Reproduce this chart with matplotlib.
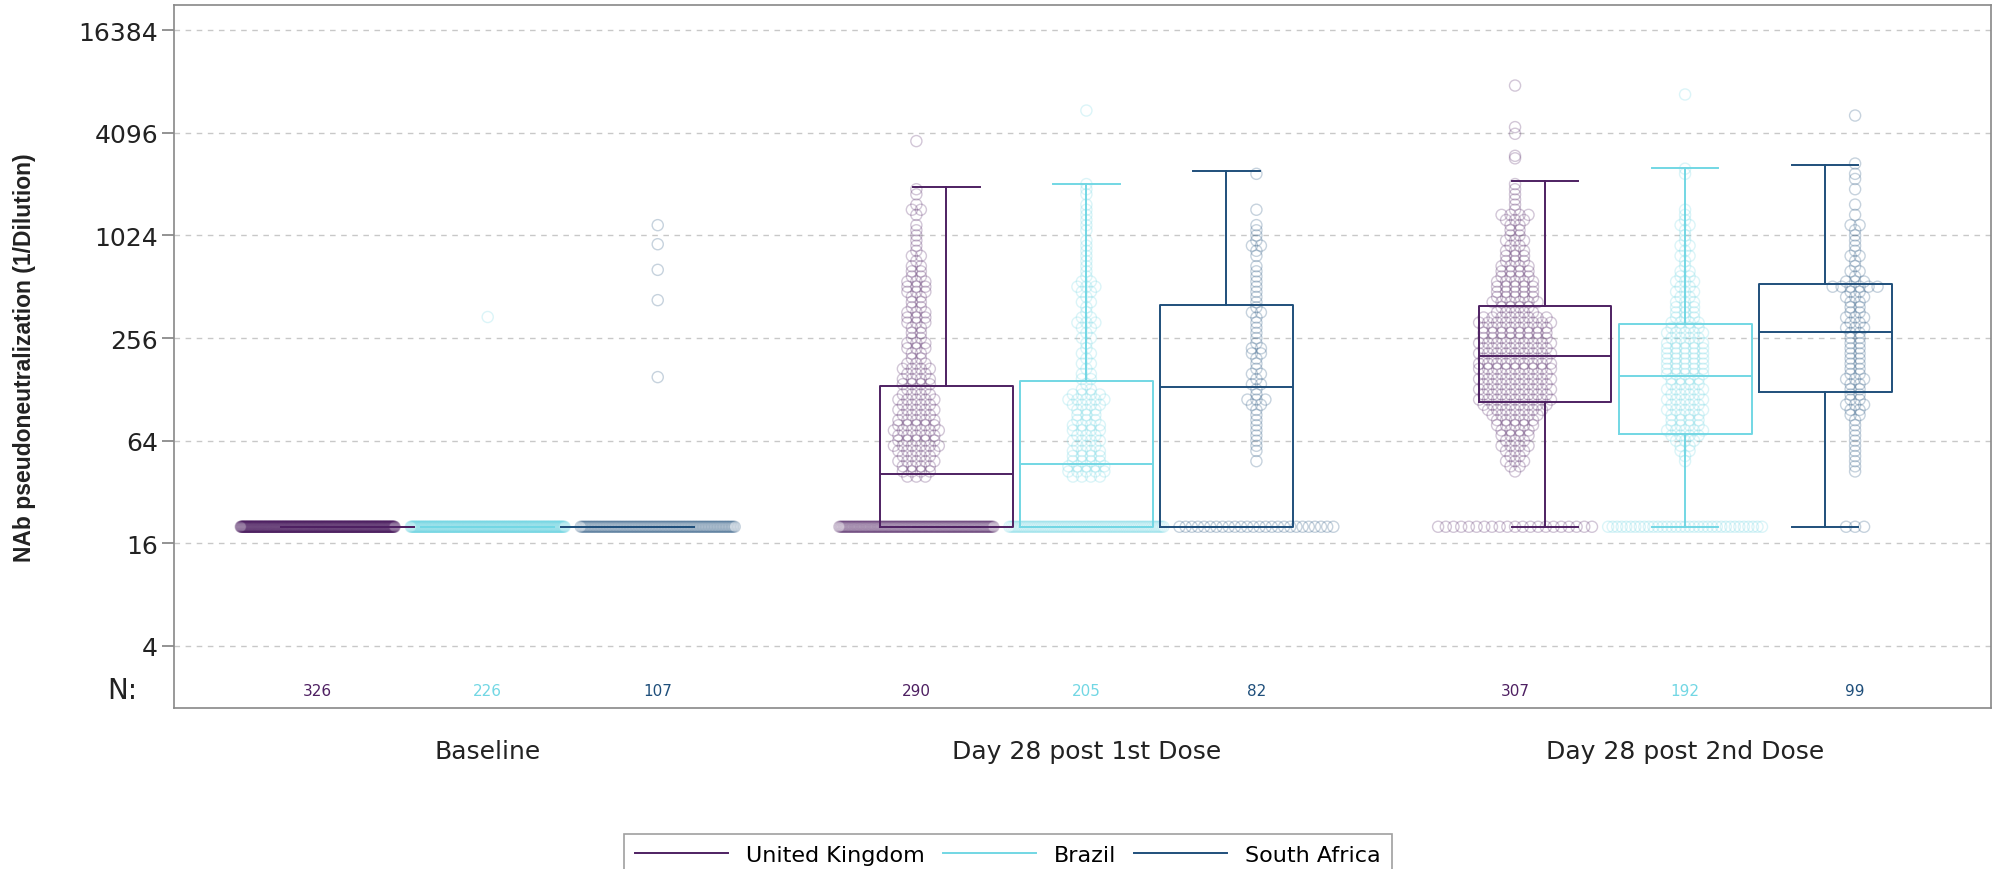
import matplotlib
matplotlib.use("Agg")
import matplotlib.pyplot as plt
import numpy as np
from matplotlib.lines import Line2D

# ---- data ----
groups = ["Baseline", "Day 28 post 1st Dose", "Day 28 post 2nd Dose"]
countries = ["United Kingdom", "Brazil", "South Africa"]
colors = ["#4e2062", "#72d7e4", "#1f4f7b"]

n_subjects = [[326, 226, 107], [290, 205, 82], [307, 192, 99]]

# box statistics (titer), rows = visit, cols = country
whislo = [[20, 20, 20], [20, 20, 20], [20, 20, 20]]
q1 = [[20, 20, 20], [20, 20, 20], [108, 70, 123]]
med = [[20, 20, 20], [41, 47, 132], [202, 153, 278]]
q3 = [[20, 20, 20], [134, 143, 400], [393, 310, 529]]
whishi = [[20, 20, 20], [1965, 2048, 2435], [2136, 2550, 2654]]

# subjects at the imputed LLOQ value (20)
lloq_value = 20
lloq_counts = [[326, 225, 102], [128, 84, 26], [21, 35, 3]]

# individual titers outside the binned part
extra_values = [
    [[], [340], [1176, 909, 643, 427, 151]],
    [[3660], [5530], []],
    [[7750, 4420, 4040, 3000, 2900], [6870], [5170]],
]

# measured titers, counted in 0.1 log2 steps from a start level
bin_start = [
    [None, None, None],
    [5.3, 5.3, 5.6],
    [5.4, 5.6, 5.4],
]
bin_counts = [
    [[], [], []],
    [
        [3, 4, 4, 5, 4, 5, 6, 5, 5, 6, 5, 5, 4, 5, 4, 5, 4, 3,
         4, 4, 3, 4, 3, 2, 2, 3, 3, 2, 2, 2, 3, 3, 3, 2, 2, 2, 3, 3, 3, 2, 2, 2,
         1, 2, 1, 1, 1, 1, 1, 1, 0, 1, 2, 1, 0, 1, 1],
        [4, 5, 5, 4, 4, 4, 3, 4, 3, 4, 4, 3, 3, 3, 4, 5, 4, 2, 1,
         2, 2, 1, 2, 1, 2, 1, 1, 2, 1, 2, 3, 2, 1, 1, 2, 1, 2, 3, 2, 1, 1, 1, 1,
         1, 1, 1, 1, 0, 1, 1, 1, 1, 1, 1, 0, 1, 1, 1],
        [1, 0, 1, 1, 1, 1, 1, 1, 1, 1, 1, 2, 3, 1, 1,
         2, 1, 2, 1, 1, 1, 2, 2, 1, 1, 1, 1, 1, 1, 2, 1,
         1, 1, 1, 1, 1, 1, 1, 1, 0, 1, 1, 2, 1, 1, 1, 1, 0, 0, 1, 0, 0, 0, 0, 0,
         0, 1],
    ],
    [
        [1, 2, 3, 2, 3, 4, 3, 4, 4, 5, 5, 6, 7, 8,
         9, 8, 9, 8, 9, 8, 9, 9, 8,
         9, 8, 9, 8, 8, 8, 9, 8, 5, 4,
         6, 5, 5, 5, 5, 4, 4, 4, 3, 3, 3, 2, 3, 2, 2, 2, 3, 4, 1, 1, 1, 1, 1, 1],
        [1, 1, 2, 2, 3, 4,
         5, 4, 4, 4, 5, 4, 5, 4, 5, 4, 4,
         5, 5, 5, 5, 5, 5, 5, 4, 5, 4,
         4, 3, 3, 3, 3, 2, 3, 2, 3, 2, 2, 1, 1, 2, 1, 2, 1, 1, 1, 2, 1, 1, 1, 0,
         0, 0, 0, 0, 0, 1, 1],
        [1, 1, 1, 1, 1, 1, 1, 1, 1, 1, 1, 2, 2, 3, 2, 2,
         2, 2, 3, 2, 2, 2, 2, 2, 2, 2, 2, 2,
         3, 2, 3, 2, 2, 2, 3, 2, 6,
         3, 1, 2, 1, 1, 2, 1, 1, 1, 1, 1, 2, 0, 1, 0, 1, 0, 0, 1, 0, 1, 1, 0, 1],
    ],
]

# ---- layout ----
box_off = [-0.234, 0.0, 0.234]
pt_off = [-0.284, 0.0, 0.284]
box_w = 0.222
marker_step = 0.0150
max_spread = 0.257


def spread(n):
    # horizontal jitter for identical values, like SAS JITTER
    if n <= 1:
        return np.zeros(max(n, 0))
    st = min(marker_step, max_spread / (n - 1))
    return (np.arange(n) - (n - 1) / 2) * st


fig = plt.figure(figsize=(19.92, 8.70), dpi=100)
ax = fig.add_axes([174 / 1992, 1 - 709 / 870, 1817 / 1992, 703 / 870])

ax.set_yscale("log", base=2)
ax.set_ylim(2 ** 0.79, 2 ** 14.49)
ax.set_xlim(-0.524, 2.511)

# points
for g in range(3):
    for c in range(3):
        x0 = g + pt_off[c]
        xs, ys = [], []
        n = lloq_counts[g][c]
        xs += list(x0 + spread(n))
        ys += [lloq_value] * n
        if bin_start[g][c] is not None:
            for i, k in enumerate(bin_counts[g][c]):
                v = 2 ** round(bin_start[g][c] + 0.1 * i, 1)
                xs += list(x0 + spread(k))
                ys += [v] * k
        for v in extra_values[g][c]:
            xs.append(x0)
            ys.append(v)
        ax.scatter(xs, ys, s=64, facecolors="none", edgecolors=colors[c],
                   linewidths=1.0, alpha=0.25, zorder=2)

# boxes
for g in range(3):
    for c in range(3):
        st = dict(whislo=whislo[g][c], q1=q1[g][c], med=med[g][c],
                  q3=q3[g][c], whishi=whishi[g][c], fliers=[])
        lp = dict(color=colors[c], linewidth=1.4)
        ax.bxp([st], positions=[g + box_off[c]], widths=[box_w],
               capwidths=[box_w / 2], showfliers=False, patch_artist=False,
               boxprops=lp, medianprops=lp, whiskerprops=lp, capprops=lp,
               manage_ticks=False, zorder=3)

# N counts
for g in range(3):
    for c in range(3):
        ax.text(g + pt_off[c], 0.0256, str(n_subjects[g][c]),
                transform=ax.get_xaxis_transform(), ha="center", va="center",
                fontsize=11, color=colors[c])
ax.text(-0.020, 0.0256, "N:", transform=ax.transAxes, ha="right",
        va="center", fontsize=20, color="#222222")

# axes styling
yt = [4, 16, 64, 256, 1024, 4096, 16384]
ax.set_yticks(yt)
ax.set_yticklabels([str(v) for v in yt])
ax.yaxis.set_minor_locator(matplotlib.ticker.NullLocator())
ax.set_xticks([0, 1, 2])
ax.set_xticklabels(groups)
ax.tick_params(axis="y", length=9, width=1.2, color="#808080", pad=2.5,
               labelsize=18, labelcolor="#222222")
ax.tick_params(axis="x", length=0, pad=22, labelsize=18, labelcolor="#222222")
for v in yt:
    ax.axhline(v, color="#c8c8c8", linewidth=1, dashes=(4, 4), zorder=1)
for sp in ax.spines.values():
    sp.set_color("#888888")
    sp.set_linewidth(1.2)

fig.text(25 / 1992, 0.589, "NAb pseudoneutralization (1/Dilution)",
         rotation=90, ha="center", va="center", fontsize=16.5,
         fontweight="bold", family="Liberation Sans", color="#222222")

handles = [Line2D([], [], color=colors[c], linewidth=1.4) for c in range(3)]
leg = fig.legend(handles, countries, ncol=3, loc="upper center",
                 bbox_to_anchor=(0.506, 1 - 835 / 870), borderaxespad=0,
                 fontsize=16, handlelength=4.2, handletextpad=0.8,
                 columnspacing=0.8, borderpad=0.5, fancybox=False,
                 frameon=True)
leg.get_frame().set_edgecolor("#888888")
leg.get_frame().set_linewidth(1.2)

fig.savefig("out.png", dpi=100)
